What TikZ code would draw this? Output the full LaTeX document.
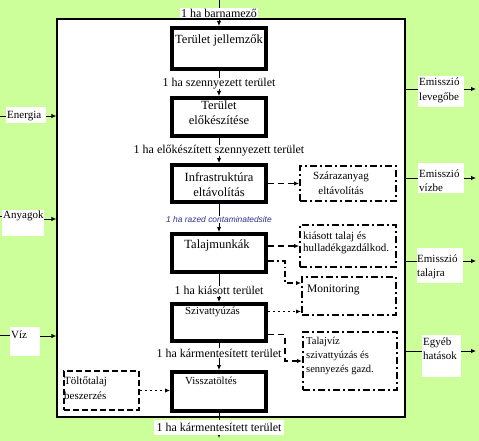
\documentclass[tikz,border=0pt]{standalone}
\usepackage{fontspec}
\setmainfont{Liberation Serif}
\newfontfamily\sansf{Liberation Sans}
\usetikzlibrary{arrows.meta,calc}
\definecolor{bggreen}{RGB}{204,255,153}
\definecolor{razblue}{RGB}{46,49,146}
\begin{document}
\begin{tikzpicture}[x=1pt,y=-1pt,
  mainbox/.style={draw, line width=4pt, fill=white, minimum width=94pt, inner sep=0pt},
  sidebox/.style={draw, line width=2pt, fill=white, inner sep=0pt, dash pattern=on 7pt off 3pt on 2pt off 3pt},
  dashbox/.style={draw, line width=2pt, fill=white, inner sep=0pt, dash pattern=on 6pt off 3pt},
  wbg/.style={fill=white, inner sep=0pt},
  btxt/.style={inner sep=0pt, align=center, font=\fontsize{12.5}{15}\selectfont},
  stxt/.style={inner sep=0pt, align=left, font=\fontsize{11}{15}\selectfont},
  flowlbl/.style={fill=white, inner xsep=1pt, inner ysep=0.5pt, font=\fontsize{12}{14}\selectfont},
  razlbl/.style={fill=white, inner sep=0.5pt, text=razblue, font=\sansf\itshape\fontsize{8.4}{10}\selectfont},
  arr/.style={-{Latex[length=5pt,width=4.5pt]}, line width=0.9pt},
  thin/.style={line width=0.9pt},
  cdash/.style={line width=1.6pt, dash pattern=on 6pt off 4pt},
  cdashdot/.style={line width=1.6pt, dash pattern=on 6pt off 3pt on 1.5pt off 3pt},
  cdot/.style={line width=1.6pt, dash pattern=on 1.5pt off 3.5pt}
]
\fill[bggreen] (0,0) rectangle (479,441);
\useasboundingbox (0,0) rectangle (479,441);

% main white frame
\node[draw, line width=1.3pt, fill=white, minimum width=348pt, minimum height=398pt, inner sep=0pt] (M) at (231,218) {};

% main process boxes
\node[mainbox, minimum height=41pt] (b1) at (219,48.5) {};
\node[mainbox, minimum height=38pt] (b2) at (219,117) {};
\node[mainbox, minimum height=37pt] (b3) at (219,183.5) {};
\node[mainbox, minimum height=38pt] (b4) at (219,253) {};
\node[mainbox, minimum height=37pt] (b5) at (219,322.5) {};
\node[mainbox, minimum height=39pt] (b6) at (219,391.5) {};

\node[btxt] (t1) at (219,40) {Terület jellemzők};
\node[btxt] (t2) at (219,112.5) {Terület\\előkészítése};
\node[btxt] (t3) at (219,184.5) {Infrastruktúra\\eltávolítás};
\node[btxt] (t4) at (217,245) {Talajmunkák};
\node[stxt, font=\fontsize{10.8}{13}\selectfont, anchor=west] (t5) at (185,312) {Szivattyúzás};
\node[stxt, font=\fontsize{10.8}{13}\selectfont, anchor=west] (t6) at (185,381) {Visszatöltés};

% flow connectors
\coordinate (top) at (219,0);
\coordinate (bot) at (219,438);
\draw[arr] (top) -- (b1) node[flowlbl, pos=.5, minimum width=78pt] (l0) {1 ha barnamező};
\draw[arr] (b1) -- (b2) node[flowlbl, pos=.5] (l1) {1 ha szennyezett terület};
\draw[arr] (b2) -- (b3) node[flowlbl, pos=.5] (l2) {1 ha előkészített szennyezett terület};
\draw[arr] (b3) -- (b4) node[razlbl, pos=.54] (l3) {1 ha razed contaminatedsite};
\draw[arr] (b4) -- (b5) node[flowlbl, pos=.6] (l4) {1 ha kiásott terület};
\draw[arr] (b5) -- (b6) node[flowlbl, pos=.37] (l5) {1 ha kármentesített terület};
\draw[arr] (b6) -- (bot) node[flowlbl, pos=.56, minimum width=130pt, minimum height=15pt] (l6) {1 ha kármentesített terület};

% side boxes
\node[sidebox, minimum width=96pt, minimum height=35pt] (s1) at (348,183.5) {};
\node[sidebox, minimum width=96pt, minimum height=42pt] (s2) at (348,246) {};
\node[sidebox, minimum width=94pt, minimum height=38pt] (s3) at (349,296) {};
\node[sidebox, minimum width=94pt, minimum height=58pt] (s4) at (350,361) {};
\node[dashbox, minimum width=75pt, minimum height=39pt] (s5) at (101.5,390.5) {};

\node[stxt, align=center] (u1) at (341,183.5) {Szárazanyag\\eltávolítás};
\node[stxt, font=\fontsize{11}{12.5}\selectfont, anchor=west] (u2) at (303,243) {kiásott talaj és\\hulladékgazdálkod.};
\node[stxt, font=\fontsize{11.5}{14}\selectfont, anchor=west] (u3) at (307,290) {Monitoring};
\node[stxt, font=\fontsize{10.5}{14}\selectfont, anchor=west] (u4) at (306,356) {Talajvíz\\szivattyúzás és\\sennyezés gazd.};
\node[stxt, anchor=west] (u5) at (64,388.5) {Töltőtalaj\\beszerzés};

% side connectors
\draw[arr, cdash] (b3) -- (s1);
\draw[arr, cdash] (b4.east |- s2.west) -- (s2.west);
\draw[arr, cdashdot] ([yshift=-8pt]b4.east) -- ++(17,0) |- ([yshift=13pt]s3.west);
\coordinate (p5) at ([yshift=11pt]b5.east);
\draw[arr, cdot] (p5) -- (p5 -| s3.west);
\draw[arr, cdash] ([yshift=-12pt]b5.east) -- ++(17,0) |- (s4.west);
\draw[arr, cdot] (s5.east) -- (s5.east -| b6.west);

% inputs
\node[wbg, minimum width=40pt, minimum height=16pt] (iE) at (26,115) {};
\node[stxt, anchor=west] (tE) at (7,116) {Energia};
\coordinate (iE0) at (0,116);
\draw[thin] (iE0) -- (iE0 -| iE.west);
\draw[arr] (iE0 -| iE.east) -- (iE0 -| M.west);

\node[wbg, minimum width=42pt, minimum height=26pt] (iA) at (23,223) {};
\node[stxt, anchor=west] (tA) at (3,216) {Anyagok};
\coordinate (iA0) at (0,216);
\coordinate (iA1) at (0,219);
\draw[thin] (iA0) -- (iA0 -| iA.west);
\draw[arr] (iA1 -| iA.east) -- (iA1 -| M.west);

\node[wbg, minimum width=30pt, minimum height=29pt] (iV) at (25,341.5) {};
\node[stxt, anchor=west] (tV) at (11,335) {Víz};
\coordinate (iV0) at (0,335);
\coordinate (iV1) at (0,336);
\draw[thin] (iV0) -- (iV0 -| iV.west);
\draw[arr] (iV1 -| iV.east) -- (iV1 -| M.west);

% outputs
\node[wbg, minimum width=46pt, minimum height=31pt] (r1) at (441,91.5) {};
\node[stxt, anchor=west] (o1t) at (419,90.5) {Emisszió\\levegőbe};
\coordinate (o1) at (476,89);
\draw[thin] (o1 -| M.east) -- (o1 -| r1.west);
\draw[arr] (o1 -| r1.east) -- (o1);

\node[wbg, minimum width=46pt, minimum height=30pt] (r2) at (441,178) {};
\node[stxt, font=\fontsize{11}{14}\selectfont, anchor=west] (o2t) at (419,181) {Emisszió\\vízbe};
\coordinate (o2) at (476,178);
\draw[thin] (o2 -| M.east) -- (o2 -| r2.west);
\draw[arr] (o2 -| r2.east) -- (o2);

\node[wbg, minimum width=46pt, minimum height=35pt] (r3) at (440,265.5) {};
\node[stxt, font=\fontsize{11}{14}\selectfont, anchor=west] (o3t) at (417,267) {Emisszió\\talajra};
\coordinate (o3) at (476,261);
\draw[thin] (o3 -| M.east) -- (o3 -| r3.west);
\draw[arr] (o3 -| r3.east) -- (o3);

\node[wbg, minimum width=39pt, minimum height=42pt] (r4) at (441.5,356) {};
\node[stxt, font=\fontsize{11}{14}\selectfont, anchor=west] (o4t) at (423,349) {Egyéb\\hatások};
\coordinate (o4) at (476,351);
\draw[thin] (o4 -| M.east) -- (o4 -| r4.west);
\draw[arr] (o4 -| r4.east) -- (o4);
\end{tikzpicture}
\end{document}
